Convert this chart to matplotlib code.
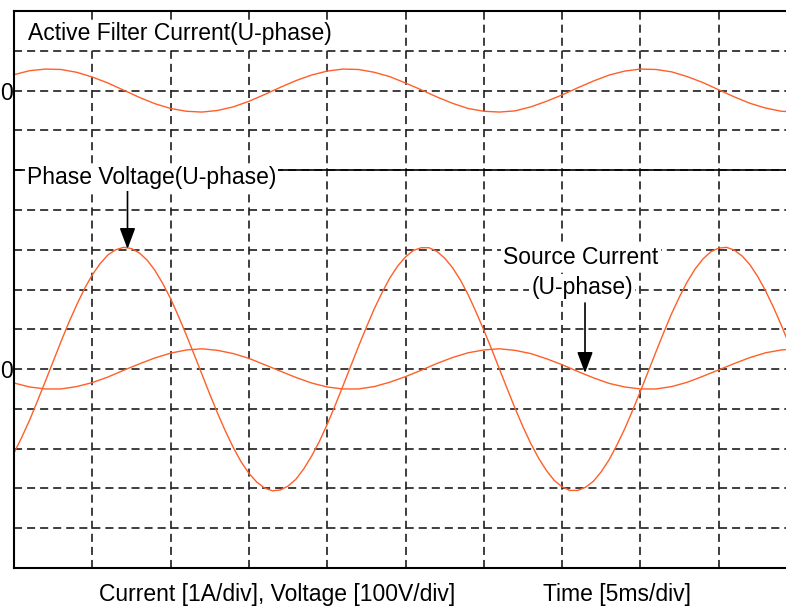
import matplotlib
matplotlib.use('Agg')
import matplotlib.pyplot

# Abtastzeitpunkte Spannung in ms (Raster 0.5 ms, 5 ms/div)
zeit_spannung_ms = [0, 0.5, 1, 1.5, 2, 2.5, 3, 3.5, 4, 4.5, 5, 5.5, 6, 6.5, 7, 7.5, 8, 8.5, 9, 9.5,
                    10, 10.5, 11, 11.5, 12, 12.5, 13, 13.5, 14, 14.5, 15, 15.5, 16, 16.5, 17, 17.5, 18, 18.5, 19, 19.5,
                    20, 20.5, 21, 21.5, 22, 22.5, 23, 23.5, 24, 24.5, 25, 25.5, 26, 26.5, 27, 27.5, 28, 28.5, 29, 29.5,
                    30, 30.5, 31, 31.5, 32, 32.5, 33, 33.5, 34, 34.5, 35, 35.5, 36, 36.5, 37, 37.5, 38, 38.5, 39, 39.5,
                    40, 40.5, 41, 41.5, 42, 42.5, 43, 43.5, 44, 44.5, 45, 45.5, 46, 46.5, 47, 47.5, 48, 48.5, 49, 49.5,
                    50]

# Strangspannung U-Phase in V
spannung_V = [-211, -171, -128, -80, -31, 19, 69, 117, 161, 202, 237, 265, 287, 300, 306, 303, 292, 274, 248, 215,
              177, 133, 86, 37, -13, -63, -111, -156, -197, -233, -262, -284, -299, -306, -304, -294, -277, -251, -219, -182,
              -139, -92, -43, 7, 57, 105, 151, 192, 229, 259, 282, 298, 305, 305, 296, 279, 255, 224, 187, 144,
              98, 50, 0, -50, -99, -145, -187, -224, -255, -280, -296, -305, -305, -297, -282, -258, -228, -191, -150, -104,
              -56, -6, 44, 93, 140, 182, 220, 252, 277, 295, 304, 306, 299, 284, 262, 232, 196, 155, 110, 62,
              12]

# Abtastzeitpunkte Stroeme in ms (Raster 1 ms)
zeit_strom_ms = [0, 1, 2, 3, 4, 5, 6, 7, 8, 9, 10, 11, 12, 13, 14, 15, 16, 17, 18, 19,
                 20, 21, 22, 23, 24, 25, 26, 27, 28, 29, 30, 31, 32, 33, 34, 35, 36, 37, 38, 39,
                 40, 41, 42, 43, 44, 45, 46, 47, 48, 49, 50]

# Netzstrom U-Phase in A
netzstrom_A = [-0.35, -0.45, -0.50, -0.50, -0.44, -0.34, -0.20, -0.03, 0.13, 0.28, 0.40, 0.48, 0.51, 0.47, 0.39, 0.27, 0.11, -0.05, -0.21, -0.35,
               -0.45, -0.50, -0.50, -0.44, -0.33, -0.19, -0.03, 0.14, 0.29, 0.41, 0.48, 0.51, 0.47, 0.39, 0.26, 0.11, -0.06, -0.22, -0.36, -0.45,
               -0.50, -0.50, -0.44, -0.33, -0.18, -0.02, 0.14, 0.29, 0.41, 0.48, 0.51]

# Strom des aktiven Filters U-Phase in A
filterstrom_A = [0.40, 0.50, 0.54, 0.53, 0.46, 0.34, 0.19, 0.01, -0.17, -0.33, -0.45, -0.52, -0.54, -0.50, -0.41, -0.27, -0.10, 0.08, 0.25, 0.39,
                 0.49, 0.54, 0.53, 0.46, 0.35, 0.19, 0.02, -0.16, -0.32, -0.45, -0.52, -0.54, -0.51, -0.41, -0.27, -0.11, 0.07, 0.24, 0.39, 0.49,
                 0.54, 0.53, 0.47, 0.35, 0.20, 0.02, -0.16, -0.32, -0.44, -0.52, -0.54]

# Beschriftungen
titel_filter = 'Active Filter Current(U-phase)'
titel_spannung = 'Phase Voltage(U-phase)'
titel_netz = ['Source Current', '(U-phase)']
text_skala = 'Current [1A/div], Voltage [100V/div]'
text_zeit = 'Time [5ms/div]'

BREITE, HOEHE = 786, 609
ORANGE = '#ff5f28'
GITTER = '#1e1e1e'
SCHRIFT = 16.5


def fig_pos(x, y):
    '''Pixel (von oben links gezaehlt) -> Figure-Koordinaten'''
    return x / BREITE, 1 - y / HOEHE


def plot():
    '''Oszillogramm: Filterstrom oben, Spannung und Netzstrom unten'''
    matplotlib.rcParams['font.family'] = ['Liberation Sans', 'DejaVu Sans']
    matplotlib.rcParams['lines.scale_dashes'] = False

    fig = matplotlib.pyplot.figure(figsize=(BREITE / 100, HOEHE / 100), dpi=100)
    # 10 Teilungen in x, die letzte ragt ueber den rechten Bildrand
    ax = fig.add_axes([14 / BREITE, 41 / HOEHE, 783 / BREITE, 557 / HOEHE])
    ax.set_xlim(0, 50)
    ax.set_ylim(0, 14)

    # Kanaele: unten Nulllinie bei 5 div, oben bei 12 div
    y_spannung = [5 + v / 100 for v in spannung_V]
    y_netz = [5 + i for i in netzstrom_A]
    y_filter = [12 + i for i in filterstrom_A]

    ax.plot(zeit_strom_ms, y_filter, '-', color=ORANGE, lw=1.0)
    ax.plot(zeit_spannung_ms, y_spannung, '-', color=ORANGE, lw=1.0)
    ax.plot(zeit_strom_ms, y_netz, '-', color=ORANGE, lw=1.0)

    # Raster wie am Oszilloskop
    ax.set_xticks(range(0, 51, 5))
    ax.set_yticks(range(0, 15))
    ax.set_yticklabels(['0' if k in (5, 12) else '' for k in range(15)])
    ax.tick_params(length=0, labelbottom=False, labelsize=SCHRIFT, pad=1)
    ax.grid(True, color=GITTER, lw=1.2, linestyle=(0, (5.8, 3.6)))
    ax.set_axisbelow(True)
    ax.axhline(10, color='black', lw=1.2, zorder=1.5)
    for s in ax.spines.values():
        s.set_linewidth(1.5)

    # Kanalbeschriftung mit weissem Hintergrund
    box = dict(facecolor='white', edgecolor='none', pad=1.5)
    ax.text(*fig_pos(28, 40), titel_filter, transform=fig.transFigure,
            fontsize=SCHRIFT, va='baseline', bbox=box, zorder=4)
    ax.text(*fig_pos(27, 184), titel_spannung, transform=fig.transFigure,
            fontsize=SCHRIFT, va='baseline', bbox=box, zorder=4)
    ax.text(*fig_pos(581, 264), titel_netz[0], transform=fig.transFigure,
            fontsize=SCHRIFT, ha='center', va='baseline', bbox=box, zorder=4)
    ax.text(*fig_pos(582, 294), titel_netz[1], transform=fig.transFigure,
            fontsize=SCHRIFT, ha='center', va='baseline', bbox=box, zorder=4)

    # Pfeile zu den Kurven
    pfeil = dict(arrowstyle='-|>,head_length=0.8,head_width=0.3', color='black',
                 lw=1.2, shrinkA=0, shrinkB=0, mutation_scale=16)
    ax.annotate('', xy=fig_pos(127.5, 249), xycoords='figure fraction',
                xytext=fig_pos(127.5, 191), textcoords='figure fraction', arrowprops=pfeil)
    ax.annotate('', xy=fig_pos(585, 373), xycoords='figure fraction',
                xytext=fig_pos(585, 303), textcoords='figure fraction', arrowprops=pfeil)

    # Skalierung unter dem Diagramm
    fig.text(*fig_pos(99, 601), text_skala, fontsize=SCHRIFT, va='baseline')
    fig.text(*fig_pos(543, 601), text_zeit, fontsize=SCHRIFT, va='baseline')

    fig.savefig('out.png', dpi=100)


def main():
    plot()


if __name__ == "__main__":
    main()
